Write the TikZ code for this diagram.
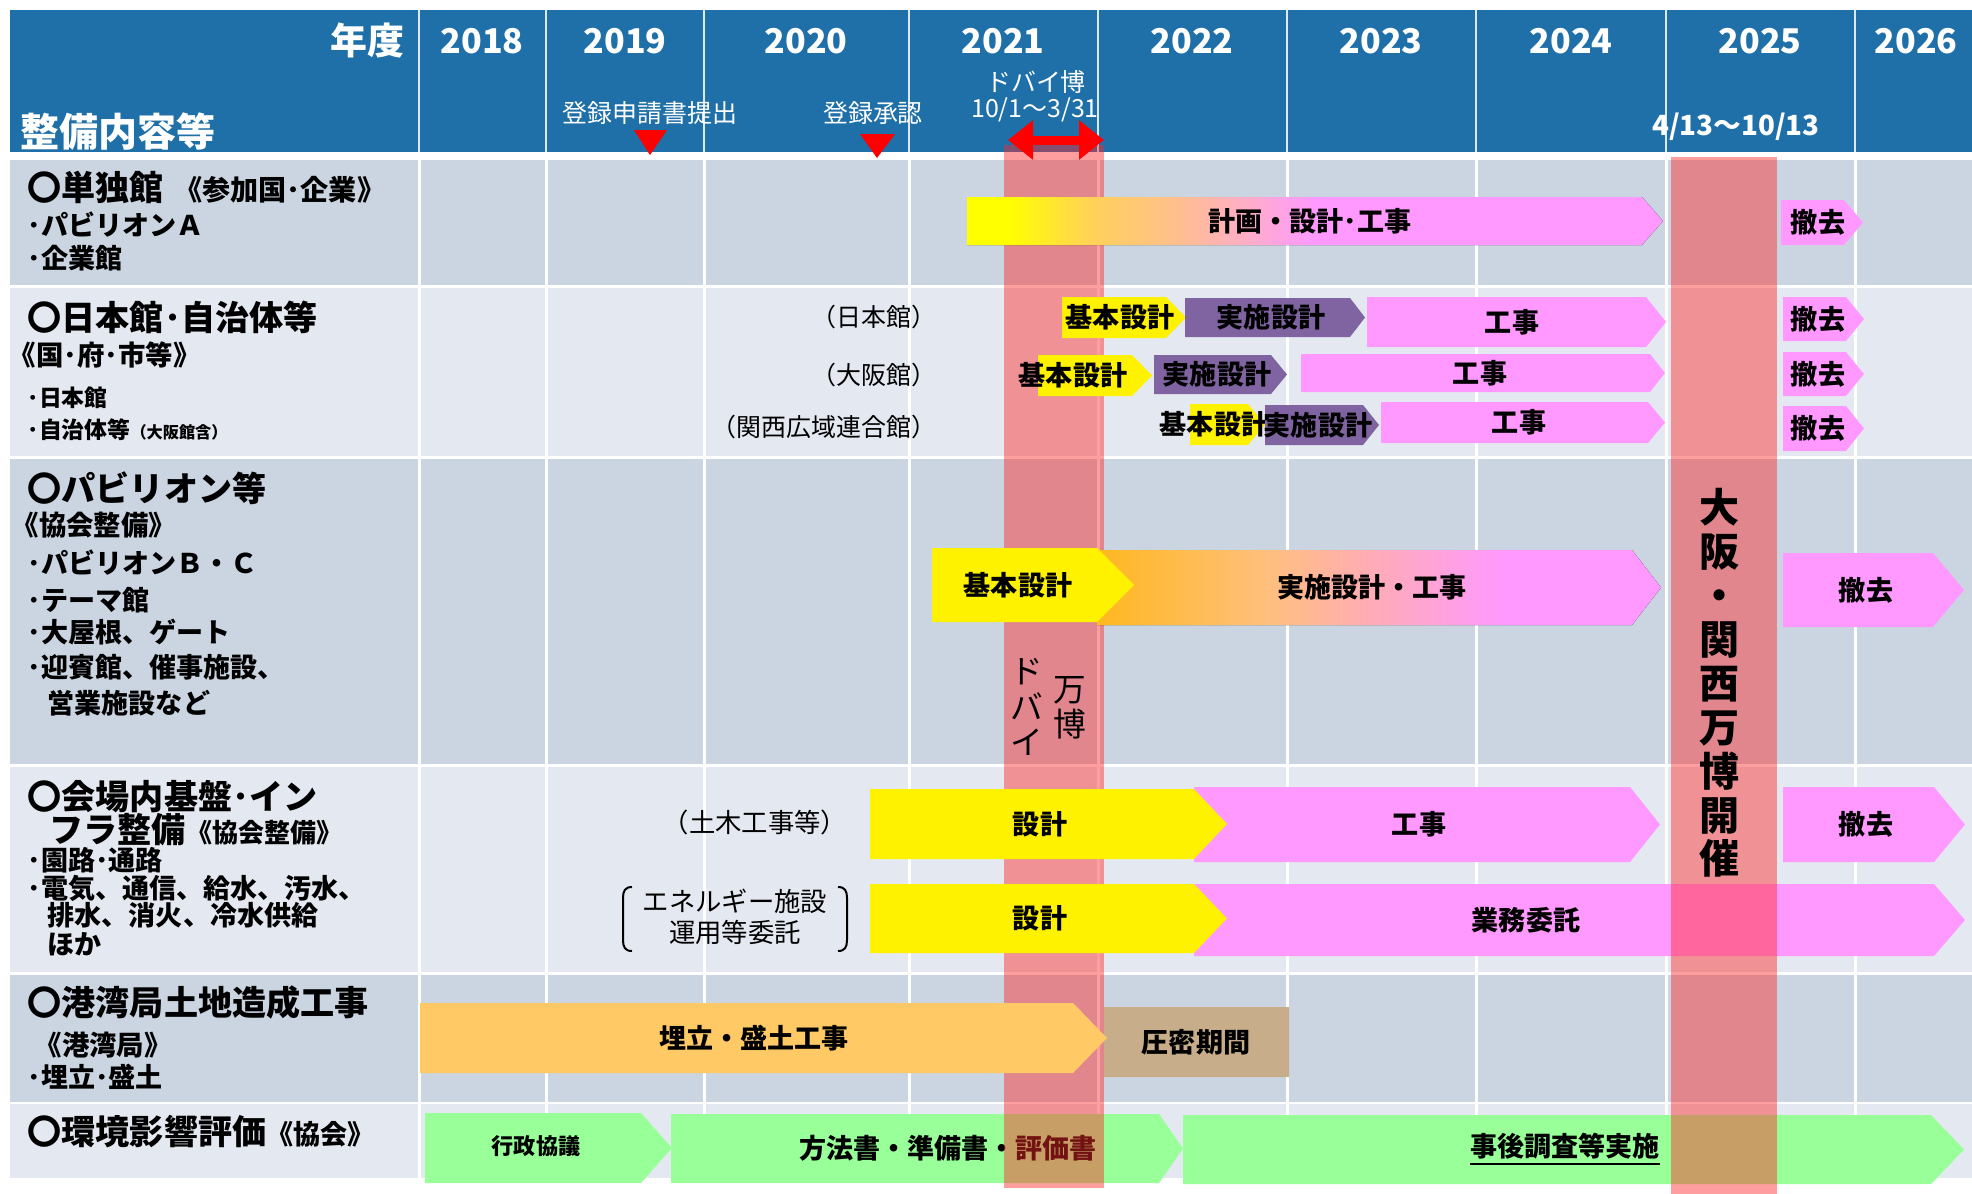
\documentclass[tikz,border=0pt]{standalone}
\usepackage{fontspec}
\setmainfont{Noto Sans CJK JP}
\usetikzlibrary{arrows.meta}

% 色
\definecolor{hdrblue}{RGB}{31,111,168}
\definecolor{rowdark}{RGB}{203,213,225}
\definecolor{rowlight}{RGB}{228,232,240}
\definecolor{barpink}{RGB}{255,153,255}
\definecolor{barpurple}{RGB}{128,100,162}
\definecolor{barorange}{RGB}{255,201,102}
\definecolor{bartan}{RGB}{200,173,138}
\definecolor{bargreen}{RGB}{153,255,153}
\definecolor{expored}{RGB}{255,40,40}

% グラデーション
\pgfdeclarehorizontalshading{planshade}{100bp}{rgb(0bp)=(1,1,0); rgb(28bp)=(1,1,0); rgb(34bp)=(1,0.82,0.35); rgb(40bp)=(1,0.75,0.55); rgb(45bp)=(1,0.68,0.78); rgb(50bp)=(1,0.6,1); rgb(100bp)=(1,0.6,1)}
\pgfdeclarehorizontalshading{buildshade}{100bp}{rgb(0bp)=(1,0.72,0.12); rgb(25bp)=(1,0.72,0.12); rgb(40bp)=(1,0.75,0.49); rgb(50bp)=(1,0.67,0.73); rgb(61bp)=(1,0.6,1); rgb(100bp)=(1,0.6,1)}

\tikzset{
  bartxt/.style={inner sep=0pt,font=\bfseries\fontsize{7.7}{9}\selectfont},
  yeartxt/.style={text=white,inner sep=0pt,font=\bfseries\fontsize{9.7}{11}\selectfont},
  hdrtxt/.style={text=white,inner sep=0pt,font=\fontsize{7.1}{8.5}\selectfont},
  subtxt/.style={anchor=east,inner sep=0pt,font=\fontsize{7.1}{8.5}\selectfont},
  lblhead/.style={anchor=west,inner sep=0pt,font=\bfseries\fontsize{9.7}{11}\selectfont},
  lblsub/.style={anchor=west,inner sep=0pt,font=\bfseries\fontsize{7.8}{9}\selectfont},
  lblitem/.style={anchor=west,inner sep=0pt,font=\bfseries\fontsize{7.7}{9}\selectfont},
}

% 工程の矢羽根: 色, 名前, 左端, 肩, 先端, 上, 下, 文字位置, 文字
\newcommand{\phasebar}[9]{%
  \fill[#1] (#3,#6) -- (#4,#6) -- (#5,{(#6+#7)/2}) -- (#4,#7) -- (#3,#7) -- cycle;
  \node[bartxt] (#2) at (#8,{(#6+#7)/2}) {#9};
}

\begin{document}
\begin{tikzpicture}[x=0.1mm,y=-0.1mm,>=latex]
  \def\cols{419,546,704,909,1098,1287,1476,1666,1855}
  \useasboundingbox (0,0) rectangle (1972,1194);
  \fill[white] (0,0) rectangle (1972,1194);

  % 見出し行
  \fill[hdrblue] (10,10) rectangle (1972,152);
  \foreach \x in \cols
    \draw[white!85!hdrblue,line width=0.2mm] (\x,10) -- (\x,152);

  % 各行の背景
  \fill[rowdark]  (10,160)  rectangle (1972,285);
  \fill[rowlight] (10,288)  rectangle (1972,456);
  \fill[rowdark]  (10,459)  rectangle (1972,764);
  \fill[rowlight] (10,767)  rectangle (1972,972);
  \fill[rowdark]  (10,975)  rectangle (1972,1102);
  \fill[rowlight] (10,1104) rectangle (1972,1178);
  \foreach \x in \cols
    \draw[white,line width=0.3mm] (\x,155) -- (\x,1178);

  % 年度
  \foreach \x/\yr in {482/2018,625/2019,806/2020,1003/2021,1192/2022,1381/2023,1571/2024,1760/2025,1916/2026}
    \node[yeartxt] (y\yr) at (\x,41) {\yr};
  \node[yeartxt,anchor=east,font=\bfseries\fontsize{10.5}{12}\selectfont] (nendo) at (405,40) {年度};
  \node[yeartxt,anchor=west,font=\bfseries\fontsize{11.1}{13}\selectfont] (naiyo) at (20,132) {整備内容等};

  % 帯の下になる矢羽根
  \phasebar{bargreen}{gyosei}{425}{641}{672}{1113}{1183}{536}{\fontsize{6.3}{7}\selectfont\raisebox{0.6mm}{行政協議}}
  \phasebar{bargreen}{hoho}{671}{1159}{1183}{1114}{1183}{948}{方法書・準備書・評価書}
  \phasebar{bargreen}{jigo}{1183}{1931}{1964}{1115}{1184}{1565}{\underline{事後調査等実施}}
  \phasebar{barpink}{gyomu}{1194}{1934}{1965}{884}{956}{1526}{業務委託}

  % ドバイ万博・大阪関西万博の帯
  \fill[expored,opacity=0.45] (1004,145) rectangle (1104,1188);
  \fill[expored,opacity=0.45] (1671,157) rectangle (1777,1194);

  % 単独館
  \phasebar{shade,shading=planshade}{plan}{967}{1642}{1663}{197}{245}{1310}{計画・設計･工事}
  \phasebar{barpink}{tekkyo}{1781}{1844}{1863}{200}{245}{1818}{撤去}

  % 日本館
  \phasebar{yellow}{jkihon}{1062}{1166}{1186}{297}{338}{1120}{基本設計}
  \phasebar{barpurple}{jjisshi}{1185}{1350}{1365}{298}{337}{1271}{実施設計}
  \phasebar{barpink}{jkoji}{1367}{1646}{1666}{297}{347}{1512}{工事}
  \phasebar{barpink}{jtekkyo}{1783}{1846}{1864}{297}{341}{1818}{撤去}
  % 大阪館
  \phasebar{yellow}{okihon}{1038}{1132}{1152}{355}{396}{1073}{基本設計}
  \phasebar{barpurple}{ojisshi}{1154}{1271}{1287}{355}{394}{1217}{実施設計}
  \phasebar{barpink}{okoji}{1301}{1650}{1665}{354}{392}{1480}{工事}
  \phasebar{barpink}{otekkyo}{1783}{1846}{1864}{352}{396}{1818}{撤去}
  % 関西広域連合館
  \phasebar{yellow}{kkihon}{1190}{1248}{1265}{404}{445}{1214}{基本設計}
  \phasebar{barpurple}{kjisshi}{1265}{1363}{1379}{405}{445}{1318}{実施設計}
  \phasebar{barpink}{kkoji}{1381}{1648}{1665}{402}{443}{1519}{工事}
  \phasebar{barpink}{ktekkyo}{1783}{1846}{1864}{406}{451}{1818}{撤去}

  % パビリオン等
  \phasebar{shade,shading=buildshade}{jisshikoji}{1097}{1632}{1661}{550}{625}{1372}{実施設計・工事}
  \phasebar{yellow}{pkihon}{932}{1097}{1134}{548}{622}{1018}{基本設計}
  \phasebar{barpink}{ptekkyo}{1783}{1933}{1964}{553}{627}{1866}{撤去}

  % 会場内基盤・インフラ
  \phasebar{barpink}{ikoji}{1194}{1630}{1660}{787}{862}{1419}{工事}
  \phasebar{yellow}{isekkei}{870}{1194}{1227}{789}{859}{1040}{設計}
  \phasebar{barpink}{itekkyo}{1783}{1934}{1965}{787}{862}{1866}{撤去}
  \phasebar{yellow}{esekkei}{870}{1194}{1227}{884}{953}{1040}{設計}

  % 港湾局
  \phasebar{bartan}{atsumitsu}{1104}{1289}{1289}{1007}{1077}{1196}{圧密期間}
  \phasebar{barorange}{umetate}{420}{1073}{1107}{1003}{1073}{754}{埋立・盛土工事}

  % 区分の注記
  \node[subtxt] (jpn) at (937,317) {（日本館）};
  \node[subtxt] (osk) at (937,375) {（大阪館）};
  \node[subtxt] (kns) at (937,427) {（関西広域連合館）};
  \node[subtxt,font=\fontsize{7.5}{9}\selectfont] (doboku) at (848,822) {（土木工事等）};
  \node[inner sep=0pt,align=center,font=\fontsize{7.5}{8.8}\selectfont] (energy) at (735,917) {エネルギー施設\\運用等委託};
  \draw[line width=0.2mm] (632,887) .. controls (625,887) and (623,891) .. (623,898) -- (623,940) .. controls (623,947) and (625,951) .. (632,951);
  \draw[line width=0.2mm] (838,887) .. controls (845,887) and (847,891) .. (847,898) -- (847,940) .. controls (847,947) and (845,951) .. (838,951);

  % 登録・会期
  \node[hdrtxt] (shinsei) at (650,113) {登録申請書提出};
  \fill[red] (634,130) -- (667,130) -- (650,155) -- cycle;
  \node[hdrtxt] (shonin) at (873,113) {登録承認};
  \fill[red] (860,134) -- (895,134) -- (877,158) -- cycle;
  \node[hdrtxt] (dubai) at (1036,82) {ドバイ博};
  \node[hdrtxt] (dubaiki) at (1035,110) {10/1～3/31};
  \coordinate (dbL) at (1008,140);
  \coordinate (dbR) at (1104,140);
  \draw[red,line width=0.9mm,{Triangle[length=2.5mm,width=3.8mm]}-{Triangle[length=2.5mm,width=3.8mm]}] (dbL) -- (dbR);
  \node[hdrtxt,font=\bfseries\fontsize{7.9}{9}\selectfont] (expoki) at (1736,127) {4/13～10/13};

  % 帯の縦書き
  \node[inner sep=0pt,align=center,font=\bfseries\fontsize{11.4}{12.5}\selectfont] (osakaexpo) at (1720,683) {大\\阪\\・\\関\\西\\万\\博\\開\\催};
  \node[inner sep=0pt,align=center,font=\fontsize{9.3}{10}\selectfont] (dubaiv) at (1027,707) {ド\\バ\\イ};
  \node[inner sep=0pt,align=center,font=\fontsize{9.3}{10}\selectfont] (bampaku) at (1070,708) {万\\博};

  % 整備内容
  \node[lblhead] (tandoku) at (27,187) {〇単独館\hspace{0.3em}{\fontsize{8}{9}\selectfont《参加国･企業》}};
  \node[lblitem] (pavA) at (27,225) {･パビリオンＡ};
  \node[lblitem] (kigyo) at (27,258) {･企業館};

  \node[lblhead] (nihonkan) at (27,317) {〇日本館･自治体等};
  \node[lblsub] (kokufu) at (8,355) {《国･府･市等》};
  \node[lblitem,font=\bfseries\fontsize{6.5}{8}\selectfont] (nihon) at (27,398) {･日本館};
  \node[lblitem,font=\bfseries\fontsize{6.5}{8}\selectfont] (jichitai) at (27,430) {･自治体等{\fontsize{4.6}{5}\selectfont（大阪館含）}};

  \node[lblhead] (pavilion) at (27,488) {〇パビリオン等};
  \node[lblsub] (kyokai) at (11,525) {《協会整備》};
  \foreach \y/\lbl in {563/･パビリオンＢ・Ｃ,600/･テーマ館,632/･大屋根、ゲート,667/･迎賓館、催事施設、}
    \node[lblitem] (pv\y) at (27,\y) {\lbl};
  \node[lblitem] (eigyo) at (47,703) {営業施設など};

  \node[lblhead] (kaijo) at (27,797) {〇会場内基盤･イン};
  \node[lblhead] (infra) at (49,830) {フラ整備{\fontsize{7.4}{9}\selectfont《協会整備》}};
  \foreach \y/\lbl in {860/･園路･通路,888/･電気、通信、給水、汚水、}
    \node[lblitem] (in\y) at (27,\y) {\lbl};
  \node[lblitem] (haisui) at (47,915) {排水、消火、冷水供給};
  \node[lblitem] (hoka) at (47,944) {ほか};

  \node[lblhead] (kowan) at (27,1003) {〇港湾局土地造成工事};
  \node[lblsub] (kowankyoku) at (34,1045) {《港湾局》};
  \node[lblitem] (umetatelbl) at (27,1077) {･埋立･盛土};

  \node[lblhead] (kankyo) at (27,1132) {〇環境影響評価{\fontsize{7.7}{9}\selectfont《協会》}};
\end{tikzpicture}
\end{document}
